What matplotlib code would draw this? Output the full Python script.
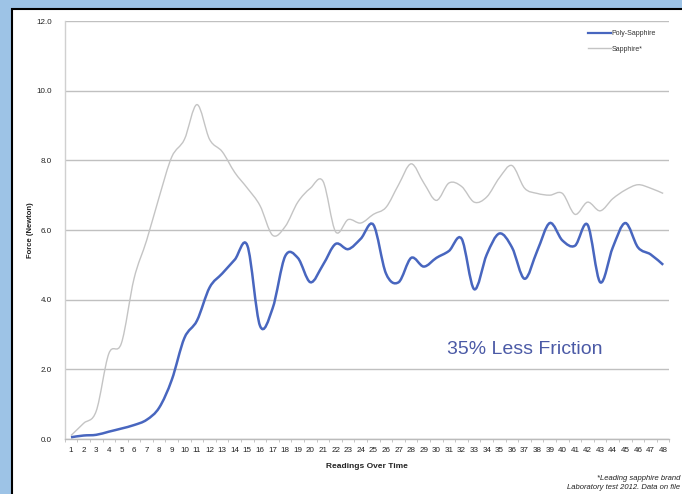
import numpy as np
import matplotlib
matplotlib.use("Agg")
import matplotlib.pyplot as plt
from matplotlib.path import Path
from matplotlib.patches import PathPatch, Rectangle
from matplotlib.lines import Line2D

plt.rcParams['font.family'] = ['Liberation Sans', 'DejaVu Sans']

# readings 1..48
readings = list(range(1, 49))

poly_sapphire = [0.05, 0.10, 0.12, 0.21, 0.30, 0.40, 0.55, 0.90, 1.70, 2.90,
                 3.40, 4.35, 4.75, 5.15, 5.55, 3.25, 3.75, 5.25, 5.20, 4.50,
                 5.00, 5.60, 5.45, 5.75, 6.15, 4.75, 4.50, 5.20, 4.95, 5.20,
                 5.40, 5.75, 4.30, 5.30, 5.90, 5.50, 4.60, 5.40, 6.20, 5.70,
                 5.55, 6.15, 4.50, 5.50, 6.20, 5.50, 5.30, 5.00]

sapphire = [0.10, 0.45, 0.80, 2.45, 2.75, 4.60, 5.70, 6.95, 8.10, 8.60,
            9.60, 8.60, 8.25, 7.65, 7.20, 6.70, 5.85, 6.10, 6.80, 7.20,
            7.40, 5.95, 6.30, 6.20, 6.45, 6.65, 7.30, 7.90, 7.35, 6.85,
            7.35, 7.25, 6.80, 6.95, 7.50, 7.85, 7.20, 7.05, 7.00, 7.05,
            6.45, 6.80, 6.55, 6.90, 7.15, 7.30, 7.20, 7.05]

series_names = ["Poly-Sapphire", "Sapphire*"]
y_ticks = [0, 2, 4, 6, 8, 10, 12]


def smooth_path(xs, ys):
    # Excel style smoothed line: catmull-rom segments drawn as cubic beziers
    p = np.column_stack([xs, ys]).astype(float)
    n = len(p)
    verts = [p[0]]
    codes = [Path.MOVETO]
    for i in range(n - 1):
        p0 = p[i - 1] if i > 0 else p[i]
        p1 = p[i]
        p2 = p[i + 1]
        p3 = p[i + 2] if i + 2 < n else p[i + 1]
        c1 = p1 + (p2 - p0) / 6.0
        c2 = p2 - (p3 - p1) / 6.0
        verts += [c1, c2, p2]
        codes += [Path.CURVE4] * 3
    return Path(verts, codes)


fig = plt.figure(figsize=(6.82, 4.94), dpi=100)
fig.patch.set_facecolor('#9dc3e6')

# white panel with black border
panel = Rectangle((12 / 682, -0.01), 1.0, (494 - 9) / 494 + 0.01,
                  transform=fig.transFigure, facecolor='white',
                  edgecolor='black', linewidth=1.5, zorder=-10)
fig.patches.append(panel)

ax = fig.add_axes([64.7 / 682, 55 / 494, 604.8 / 682, 418 / 494])
ax.set_facecolor('none')

ax.set_xlim(0.5, 48.5)
ax.set_ylim(0, 12)

grey_col = '#c4c4c4'
blue_col = '#4866bf'

ax.add_patch(PathPatch(smooth_path(readings, sapphire), fill=False,
                       edgecolor=grey_col, linewidth=1.0, zorder=3))
ax.add_patch(PathPatch(smooth_path(readings, poly_sapphire), fill=False,
                       edgecolor=blue_col, linewidth=1.8, zorder=4))

ax.set_yticks(y_ticks)
ax.set_yticklabels([f"{v:.1f}" for v in y_ticks])
ax.set_xticks(readings)
ax.set_xticklabels([str(r) for r in readings])
ax.set_xticks(np.arange(0.5, 49, 1), minor=True)

ax.tick_params(axis='y', length=0, pad=9, labelsize=5.8, labelcolor='#222222')
ax.tick_params(axis='x', which='major', length=0, pad=6, labelsize=5.8,
               labelcolor='#222222')
ax.tick_params(axis='x', which='minor', length=2.5, color='#bbbbbb', width=0.6)

ax.grid(axis='y', color='#c0c0c0', linewidth=1.0)
ax.set_axisbelow(True)
for s in ['top', 'right']:
    ax.spines[s].set_visible(False)
ax.spines['left'].set_color('#d0d0d0')
ax.spines['bottom'].set_color('#bbbbbb')
ax.spines['left'].set_linewidth(1.0)
ax.spines['bottom'].set_linewidth(1.0)

ax.set_xlabel("Readings Over Time", fontsize=6, fontweight='bold',
              color='#222222', labelpad=6)
fig.text(30 / 682, 1 - 230 / 494, "Force (Newton)", rotation=90, fontsize=5.5,
         fontweight='bold', color='#222222', ha='center', va='center')

ax.text(37.0, 2.58, "35% Less Friction", fontsize=14, color='#4b5aa6',
        ha='center', va='center')

handles = [Line2D([], [], color=blue_col, linewidth=1.6),
           Line2D([], [], color=grey_col, linewidth=1.0)]
leg = ax.legend(handles, series_names, loc='upper right',
                bbox_to_anchor=(662 / 682, 1 - 24 / 494),
                bbox_transform=fig.transFigure, frameon=False, fontsize=5,
                handlelength=3.2, handletextpad=0.1, labelspacing=1.2)
for t in leg.get_texts():
    t.set_color('#333333')

fig.text(680 / 682, 1 - 478 / 494, "*Leading sapphire brand", fontsize=5.5,
         style='italic', ha='right', va='center', color='#222222')
fig.text(680 / 682, 1 - 487 / 494, "Laboratory test 2012. Data on file",
         fontsize=5.5, style='italic', ha='right', va='center', color='#222222')

fig.savefig("out.png", dpi=100)
